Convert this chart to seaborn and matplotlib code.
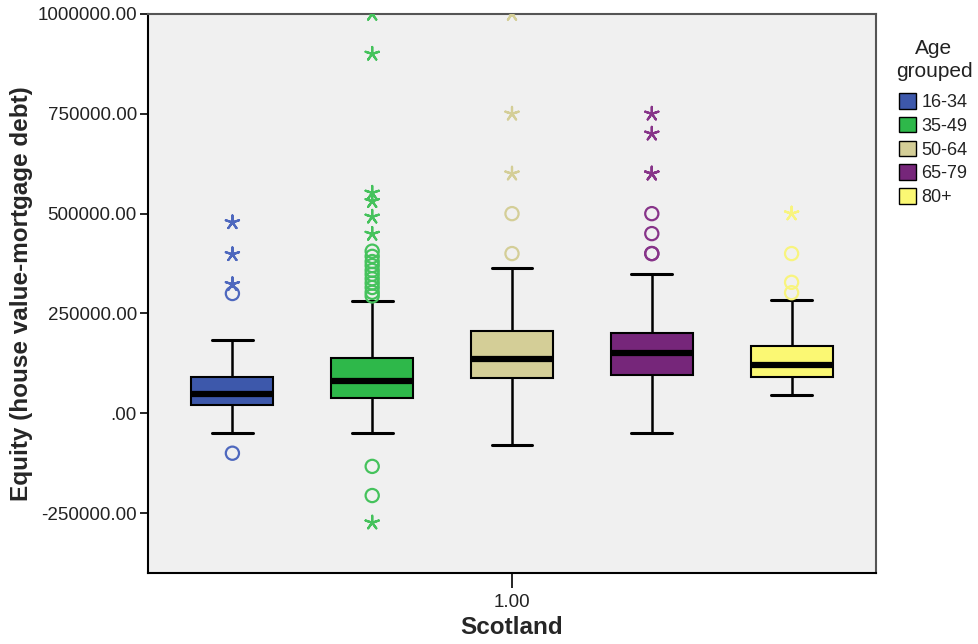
import numpy as np
import pandas as pd
import matplotlib
matplotlib.use("Agg")
import matplotlib.pyplot as plt
from matplotlib.patches import Patch
import seaborn as sns

# ---------------- data ----------------
age_groups = ["16-34", "35-49", "50-64", "65-79", "80+"]
colors = ["#3D58AB", "#2EB84A", "#D4CE97", "#76267A", "#FBF873"]
outlier_colors = ["#4E68BE", "#45C25C", "#D4CE97", "#873489", "#F8F47E"]
region = "1.00"

# five-number summaries: lower whisker, Q1, median, Q3, upper whisker
summ_1634 = [-50000, 20000, 49000, 91000, 183000]
summ_3549 = [-50000, 39000, 80000, 138000, 281000]
summ_5064 = [-80000, 88000, 135000, 206000, 364000]
summ_6579 = [-50000, 95000, 150000, 200000, 350000]
summ_80 = [46000, 92000, 122000, 168000, 284000]

# outliers (circles: 1.5-3 IQR, stars: > 3 IQR)
circ_1634 = [300000, -100000]
star_1634 = [478000, 398000, 323000]
circ_3549 = [294000, 303000, 315000, 326000, 337000, 348000, 358000, 370000, 380000,
             393000, 406000, -133000, -206000]
star_3549 = [1000000, 900000, 552000, 531000, 492000, 449000, -274000]
circ_5064 = [500000, 400000]
star_5064 = [1000000, 750000, 600000]
circ_6579 = [500000, 450000, 400000, 400000]
star_6579 = [750000, 700000, 600000, 600000]
circ_80 = [400000, 328000, 302000]
star_80 = [500000]

y_ticks = [-250000, 0, 250000, 500000, 750000, 1000000]
y_tick_labels = ["-250000.00", ".00", "250000.00", "500000.00", "750000.00", "1000000.00"]
y_limits = (-400000, 1000000)

summaries = [summ_1634, summ_3549, summ_5064, summ_6579, summ_80]
circles = [circ_1634, circ_3549, circ_5064, circ_6579, circ_80]
stars = [star_1634, star_3549, star_5064, star_6579, star_80]


def frame(lists):
    rows = []
    for g, vals in zip(age_groups, lists):
        for v in vals:
            rows.append({"Scotland": region, "Age grouped": g, "Equity": v})
    return pd.DataFrame(rows)


box_df = frame(summaries)
circ_df = frame(circles)
star_df = frame(stars)

# ---------------- style ----------------
sns.set_style("ticks", {"axes.facecolor": "#F0F0F0"})
plt.rcParams["font.family"] = ["Liberation Sans", "DejaVu Sans"]

fig = plt.figure(figsize=(9.79, 6.44), dpi=100)
ax = fig.add_axes([148 / 979, 1 - 573 / 644, (876 - 148) / 979, (573 - 14) / 644])

palette = dict(zip(age_groups, colors))
out_palette = dict(zip(age_groups, outlier_colors))

sns.boxplot(
    data=box_df, x="Scotland", y="Equity", hue="Age grouped",
    order=[region], hue_order=age_groups, palette=palette, saturation=1,
    whis=(0, 100), showfliers=False, width=0.8, gap=0.414,
    linecolor="black", linewidth=1.5,
    medianprops={"linewidth": 4.5, "color": "black"},
    whiskerprops={"linewidth": 1.8}, capprops={"linewidth": 2.2},
    legend=False, ax=ax,
)


def hollow(start):
    for coll in ax.collections[start:]:
        fc = coll.get_facecolors()
        coll.set_edgecolors(fc)
        coll.set_facecolors("none")
        coll.set_linewidths(1.6)


n0 = len(ax.collections)
sns.stripplot(
    data=circ_df, x="Scotland", y="Equity", hue="Age grouped",
    order=[region], hue_order=age_groups, palette=out_palette,
    dodge=True, jitter=False, marker="o", size=9.5, legend=False, ax=ax,
)
hollow(n0)
n1 = len(ax.collections)
sns.stripplot(
    data=star_df, x="Scotland", y="Equity", hue="Age grouped",
    order=[region], hue_order=age_groups, palette=out_palette,
    dodge=True, jitter=False, marker=(5, 2, 0), size=10, legend=False, ax=ax,
)
hollow(n1)

ax.set_xlim(-0.4166, 0.4166)
ax.set_ylim(*y_limits)
ax.set_yticks(y_ticks)
ax.set_yticklabels(y_tick_labels)
ax.tick_params(axis="y", length=6, width=1.2, labelsize=13.5, pad=2)
ax.tick_params(axis="x", length=11, width=1.2, labelsize=13.5, pad=4)
for lab in ax.get_xticklabels() + ax.get_yticklabels():
    lab.set_color("#222222")
ax.tick_params(axis="both", color="black")

for side in ["left", "bottom"]:
    ax.spines[side].set_color("black")
    ax.spines[side].set_linewidth(1.5)
for side in ["top", "right"]:
    ax.spines[side].set_visible(True)
    ax.spines[side].set_color("#555555")
    ax.spines[side].set_linewidth(1.5)

ax.set_xlabel("Scotland", fontsize=17.5, fontweight="bold", labelpad=4)
ax.set_ylabel("Equity (house value-mortgage debt)", fontsize=17.5, fontweight="bold", labelpad=3)

fig.text(934 / 979, 1 - 60 / 644, "Age\ngrouped", ha="center", va="center",
         multialignment="center", fontsize=15, color="#222222", linespacing=1.3)

handles = [Patch(facecolor=c, edgecolor="black", linewidth=1.0) for c in colors]
leg = fig.legend(
    handles, age_groups, loc="upper left",
    bbox_to_anchor=(899 / 979, 1 - 93 / 644), frameon=False,
    fontsize=13, handlelength=0.95, handleheight=0.95,
    handletextpad=0.3, labelspacing=0.32, borderaxespad=0, borderpad=0,
)
for t in leg.get_texts():
    t.set_color("#222222")

fig.savefig("out.png", dpi=100, facecolor="white")
